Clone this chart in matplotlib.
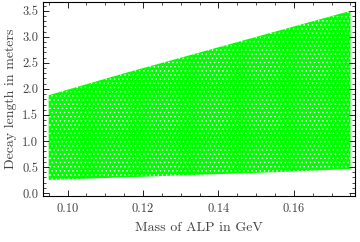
import numpy as np
import matplotlib
matplotlib.use("Agg")
import matplotlib.pyplot as plt
from matplotlib.ticker import MultipleLocator

# edges of the green region
mass = [0.095, 0.115, 0.135, 0.155, 0.175]
upper = [1.88, 2.30, 2.70, 3.10, 3.50]
lower = [0.25, 0.30, 0.35, 0.40, 0.46]

plt.rcParams['font.family'] = 'cmr10'
plt.rcParams['axes.formatter.use_mathtext'] = True
plt.rcParams['hatch.linewidth'] = 0.5

fig = plt.figure(figsize=(3.6, 2.42), dpi=100)
ax = fig.add_axes([43/360, 46/242, 312/360, 194/242])

ax.fill_between(mass, lower, upper, facecolor='#00ff00', edgecolor='white',
                hatch='....', linewidth=0)

ax.set_xlim(0.0935, 0.1762)
ax.set_ylim(-0.058, 3.67)
ax.xaxis.set_major_locator(MultipleLocator(0.02))
ax.xaxis.set_minor_locator(MultipleLocator(0.005))
ax.yaxis.set_major_locator(MultipleLocator(0.5))
ax.yaxis.set_minor_locator(MultipleLocator(0.1))
ax.xaxis.set_major_formatter(lambda v, p: "%.2f" % v)
ax.yaxis.set_major_formatter(lambda v, p: "%.1f" % v)

ax.tick_params(which='both', direction='in', top=True, right=True,
               labelsize=9, labelcolor='#444444')
ax.tick_params(which='major', length=4, width=0.6)
ax.tick_params(axis='x', pad=5)
ax.tick_params(which='minor', length=2, width=0.5)
for s in ax.spines.values():
    s.set_linewidth(0.8)

ax.set_xlabel("Mass of ALP in GeV", fontsize=10, color='#444444', labelpad=5)
ax.set_ylabel("Decay length in meters", fontsize=10, color='#444444', labelpad=4)

fig.savefig("out.png", dpi=100)
